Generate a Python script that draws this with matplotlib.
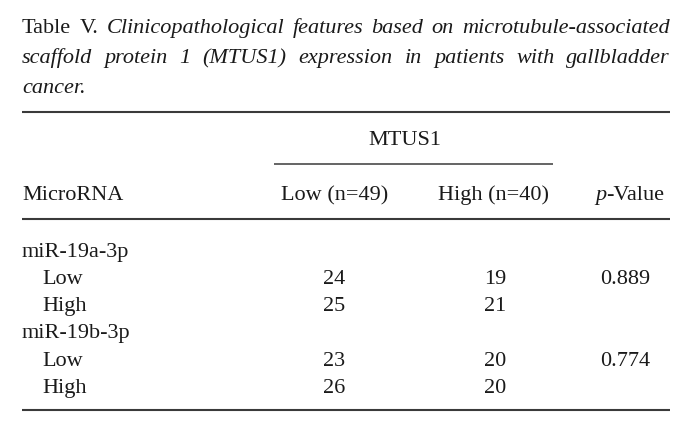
import matplotlib
matplotlib.use("Agg")
import matplotlib.pyplot as plt

title_lead = "Table V."
title_lines = [
    "Clinicopathological features based on microtubule-associated",
    "scaffold protein 1 (MTUS1) expression in patients with gallbladder",
    "cancer.",
]
group_header = "MTUS1"
col_headers = ["MicroRNA", "Low (n=49)", "High (n=40)", "p", "-Value"]
mirnas = ["miR-19a-3p", "miR-19b-3p"]
levels = ["Low", "High"]
low_counts = [[24, 25], [23, 26]]
high_counts = [[19, 21], [20, 20]]
p_values = ["0.889", "0.774"]

W, H = 692, 433
fig = plt.figure(figsize=(W / 100, H / 100), dpi=100)
ax = fig.add_axes([0, 0, 1, 1])
ax.set_xlim(0, W)
ax.set_ylim(H, 0)
ax.axis("off")

FAM = "Liberation Serif"
TS = 16.0
BS = 16.0
LEFT, RIGHT = 22, 670
COL = "#1a1a1a"
fig.canvas.draw()
r = fig.canvas.get_renderer()


def width(t, size, style="normal"):
    tt = ax.text(0, 0, t, fontsize=size, family=FAM, style=style)
    bb = tt.get_window_extent(renderer=r)
    tt.remove()
    return bb.width


def justify(words, y, styles, justify_line=True):
    ws = [width(w, TS, s) for w, s in zip(words, styles)]
    total = sum(ws)
    if justify_line and len(words) > 1:
        gap = (RIGHT - LEFT - total) / (len(words) - 1)
    else:
        gap = width("a b", TS) - width("ab", TS)
    x = LEFT
    for w, s, wd in zip(words, styles, ws):
        ax.text(x, y, w, fontsize=TS, family=FAM, style=s, va="baseline",
                ha="left", color=COL)
        x += wd + gap


l1 = ["Table", "V."] + title_lines[0].split()
justify(l1, 33, ["normal", "normal"] + ["italic"] * (len(l1) - 2))
l2 = title_lines[1].split()
justify(l2, 63, ["italic"] * len(l2))
l3 = title_lines[2].split()
justify(l3, 93, ["italic"] * len(l3), justify_line=False)

# rules
rc = "#3a3a3a"
ax.plot([LEFT, RIGHT], [112, 112], color=rc, lw=1.5, solid_capstyle="butt")
ax.plot([274, 553], [163.5, 163.5], color=rc, lw=1.1, solid_capstyle="butt")
ax.plot([LEFT, RIGHT], [218.5, 218.5], color=rc, lw=1.5, solid_capstyle="butt")
ax.plot([LEFT, RIGHT], [410, 410], color=rc, lw=1.5, solid_capstyle="butt")

kw = dict(fontsize=BS, family=FAM, va="baseline", color=COL)
ax.text(405, 145, group_header, ha="center", **kw)
hy = 200
ax.text(LEFT, hy, col_headers[0], ha="left", **kw)
ax.text(335, hy, col_headers[1], ha="center", **kw)
ax.text(494, hy, col_headers[2], ha="center", **kw)
pw = width(col_headers[3], BS, "italic")
vw = width(col_headers[4], BS)
px0 = 630 - (pw + vw) / 2
ax.text(px0, hy, col_headers[3], ha="left", style="italic", **kw)
ax.text(px0 + pw, hy, col_headers[4], ha="left", **kw)

cx = [334, 495, 625]
y = 256.5
step = 27.3
for i, m in enumerate(mirnas):
    ax.text(LEFT, y, m, ha="left", **kw)
    y += step
    for j, lv in enumerate(levels):
        ax.text(42, y, lv, ha="left", **kw)
        ax.text(cx[0], y, str(low_counts[i][j]), ha="center", **kw)
        ax.text(cx[1], y, str(high_counts[i][j]), ha="center", **kw)
        if j == 0:
            ax.text(cx[2], y, p_values[i], ha="center", **kw)
        y += step

fig.savefig("out.png", dpi=100, facecolor="white")
